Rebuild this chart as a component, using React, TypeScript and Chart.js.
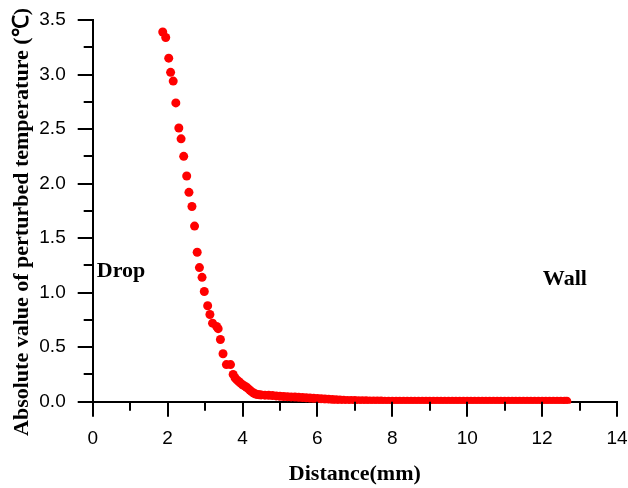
import React, { useEffect, useRef } from 'react';
import { Chart, registerables } from 'chart.js';

Chart.register(...registerables);

// Distance from drop (mm)
const distanceMm: number[] = [
  1.87, 1.95, 2.03, 2.08, 2.15, 2.22, 2.30, 2.36, 2.43, 2.51, 2.57, 2.65, 2.72, 2.79,
  2.85, 2.92, 2.98, 3.07, 3.13, 3.20, 3.31, 3.35, 3.41, 3.48, 3.57, 3.68, 3.75,
  3.80, 3.85, 3.90, 3.95, 4.00, 4.05, 4.10, 4.15, 4.20, 4.25, 4.30, 4.35, 4.40, 4.45,
  4.5, 4.6, 4.7, 4.8, 4.9, 5.0, 5.1, 5.2, 5.3, 5.4, 5.5, 5.6, 5.7, 5.8, 5.9,
  6.0, 6.1, 6.2, 6.3, 6.4, 6.5, 6.6, 6.7, 6.8, 6.9,
  7.0, 7.1, 7.2, 7.3, 7.4, 7.5, 7.6, 7.7, 7.8, 7.9,
  8.0, 8.1, 8.2, 8.3, 8.4, 8.5, 8.6, 8.7, 8.8, 8.9,
  9.0, 9.1, 9.2, 9.3, 9.4, 9.5, 9.6, 9.7, 9.8, 9.9,
  10.0, 10.1, 10.2, 10.3, 10.4, 10.5, 10.6, 10.7, 10.8, 10.9,
  11.0, 11.1, 11.2, 11.3, 11.4, 11.5, 11.6, 11.7, 11.8, 11.9,
  12.0, 12.1, 12.2, 12.3, 12.4, 12.5, 12.6, 12.66,
];

// Absolute value of perturbed temperature (°C)
const perturbedTemp: number[] = [
  3.39, 3.34, 3.15, 3.02, 2.94, 2.74, 2.51, 2.41, 2.25, 2.07, 1.92, 1.79, 1.61, 1.37,
  1.23, 1.14, 1.01, 0.88, 0.80, 0.72, 0.69, 0.67, 0.57, 0.44, 0.34, 0.34, 0.25,
  0.22, 0.20, 0.185, 0.17, 0.155, 0.145, 0.135, 0.12, 0.105, 0.09, 0.08, 0.07, 0.066, 0.064,
  0.062, 0.060, 0.058, 0.056, 0.053, 0.050, 0.048, 0.046, 0.044, 0.042, 0.040, 0.038, 0.036, 0.034, 0.032,
  0.030, 0.027, 0.025, 0.023, 0.020, 0.018, 0.016, 0.014, 0.012, 0.011,
  0.010, 0.009, 0.008, 0.008, 0.007, 0.006, 0.006, 0.006, 0.005, 0.005,
  0.005, 0.005, 0.005, 0.005, 0.005, 0.005, 0.005, 0.005, 0.005, 0.005,
  0.005, 0.005, 0.005, 0.005, 0.005, 0.005, 0.005, 0.005, 0.005, 0.005,
  0.005, 0.005, 0.005, 0.005, 0.005, 0.005, 0.005, 0.005, 0.005, 0.005,
  0.005, 0.005, 0.005, 0.005, 0.005, 0.005, 0.005, 0.005, 0.005, 0.005,
  0.005, 0.005, 0.005, 0.005, 0.005, 0.005, 0.005, 0.005,
];

const xMajorTicks = [0, 2, 4, 6, 8, 10, 12, 14];
const xMinorTicks = [1, 3, 5, 7, 9, 11, 13];
const yMajorTicks = [0, 0.5, 1.0, 1.5, 2.0, 2.5, 3.0, 3.5];
const yMinorTicks = [0.25, 0.75, 1.25, 1.75, 2.25, 2.75, 3.25];

const annotationTexts = ['Drop', 'Wall'];
const annotationX = [0.11, 12.02];
const annotationY = [1.2, 1.125];

const xTitle = 'Distance(mm)';
const yTitle = 'Absolute value of perturbed temperature (\u2103)';

const serifFamily = '"Liberation Serif", "Times New Roman", serif';
const tickFont = { family: '"Liberation Sans", Arial, sans-serif', size: 19 };
const titleFont = { family: serifFamily, size: 22, weight: 'bold' as const };

const zeroPadding = (s: any) => {
  s.paddingLeft = 0;
  s.paddingRight = 0;
  s.paddingTop = 0;
  s.paddingBottom = 0;
};

const tickMarksPlugin = {
  id: 'tickMarks',
  afterDraw(chart: any) {
    const { ctx, chartArea } = chart;
    const xs = chart.scales.x;
    const ys = chart.scales.y;
    ctx.save();
    ctx.strokeStyle = '#000';
    ctx.lineWidth = 2;
    ctx.lineCap = 'butt';
    const drawX = (v: number, len: number) => {
      const px = Math.round(xs.getPixelForValue(v));
      ctx.beginPath();
      ctx.moveTo(px, chartArea.bottom);
      ctx.lineTo(px, chartArea.bottom + len);
      ctx.stroke();
    };
    const drawY = (v: number, len: number) => {
      const py = Math.round(ys.getPixelForValue(v));
      ctx.beginPath();
      ctx.moveTo(chartArea.left, py);
      ctx.lineTo(chartArea.left - len, py);
      ctx.stroke();
    };
    xMajorTicks.forEach((v) => drawX(v, 15));
    xMinorTicks.forEach((v) => drawX(v, 9));
    yMajorTicks.forEach((v) => drawY(v, 15));
    yMinorTicks.forEach((v) => drawY(v, 9));

    ctx.fillStyle = '#000';
    ctx.font = `bold 22px ${serifFamily}`;
    ctx.textAlign = 'left';
    ctx.textBaseline = 'middle';
    annotationTexts.forEach((t, i) => {
      ctx.fillText(t, xs.getPixelForValue(annotationX[i]), ys.getPixelForValue(annotationY[i]));
    });

    // vertical axis title
    ctx.save();
    ctx.translate(22, 222);
    ctx.rotate(-Math.PI / 2);
    ctx.font = `bold 22px ${serifFamily}`;
    ctx.textAlign = 'center';
    ctx.textBaseline = 'middle';
    ctx.fillText(yTitle, 0, 0);
    ctx.restore();
    ctx.restore();
  },
};

export default function App() {
  const canvasRef = useRef<HTMLCanvasElement | null>(null);

  useEffect(() => {
    if (!canvasRef.current) return;
    const chart = new Chart(canvasRef.current, {
      type: 'scatter',
      data: {
        datasets: [
          {
            data: distanceMm.map((x, i) => ({ x, y: perturbedTemp[i] })),
            backgroundColor: 'rgb(255,0,0)',
            borderColor: 'rgb(255,0,0)',
            borderWidth: 0,
            pointRadius: 4.5,
            pointHoverRadius: 4.5,
            clip: { left: false, top: false, right: false, bottom: 2 } as any,
          },
        ],
      },
      options: {
        responsive: false,
        animation: false,
        events: [],
        layout: { padding: { left: 0, top: 20, right: 11, bottom: 0 } },
        plugins: {
          legend: { display: false },
          tooltip: { enabled: false },
        },
        scales: {
          x: {
            type: 'linear',
            min: 0,
            max: 14,
            afterBuildTicks: (s: any) => {
              s.ticks = xMajorTicks.map((v) => ({ value: v }));
            },
            afterFit: (s: any) => {
              s.height = 86.3;
              zeroPadding(s);
            },
            ticks: {
              font: tickFont,
              color: '#000',
              padding: 11,
              maxRotation: 0,
              autoSkip: false,
              callback: (v: any) => String(v),
            },
            grid: {
              display: true,
              drawOnChartArea: false,
              drawTicks: true,
              tickLength: 15,
              tickColor: 'rgba(0,0,0,0)',
            },
            border: { display: true, color: '#000', width: 2 },
            title: {
              display: true,
              text: xTitle,
              font: titleFont,
              color: '#000',
              padding: 0,
            },
          },
          y: {
            type: 'linear',
            min: 0,
            max: 3.5,
            afterBuildTicks: (s: any) => {
              s.ticks = yMajorTicks.map((v) => ({ value: v }));
            },
            afterFit: (s: any) => {
              s.width = 92.7;
              zeroPadding(s);
            },
            ticks: {
              font: tickFont,
              color: '#000',
              padding: 12,
              autoSkip: false,
              callback: (v: any) => Number(v).toFixed(1),
            },
            grid: {
              display: true,
              drawOnChartArea: false,
              drawTicks: true,
              tickLength: 15,
              tickColor: 'rgba(0,0,0,0)',
            },
            border: { display: true, color: '#000', width: 2 },
          },
        },
      },
      plugins: [tickMarksPlugin],
    });
    return () => chart.destroy();
  }, []);

  return (
    <div style={{ position: 'fixed', left: 0, top: 0, width: 628, height: 488, background: '#fff' }}>
      <canvas ref={canvasRef} width={628} height={488} style={{ display: 'block' }} />
    </div>
  );
}
